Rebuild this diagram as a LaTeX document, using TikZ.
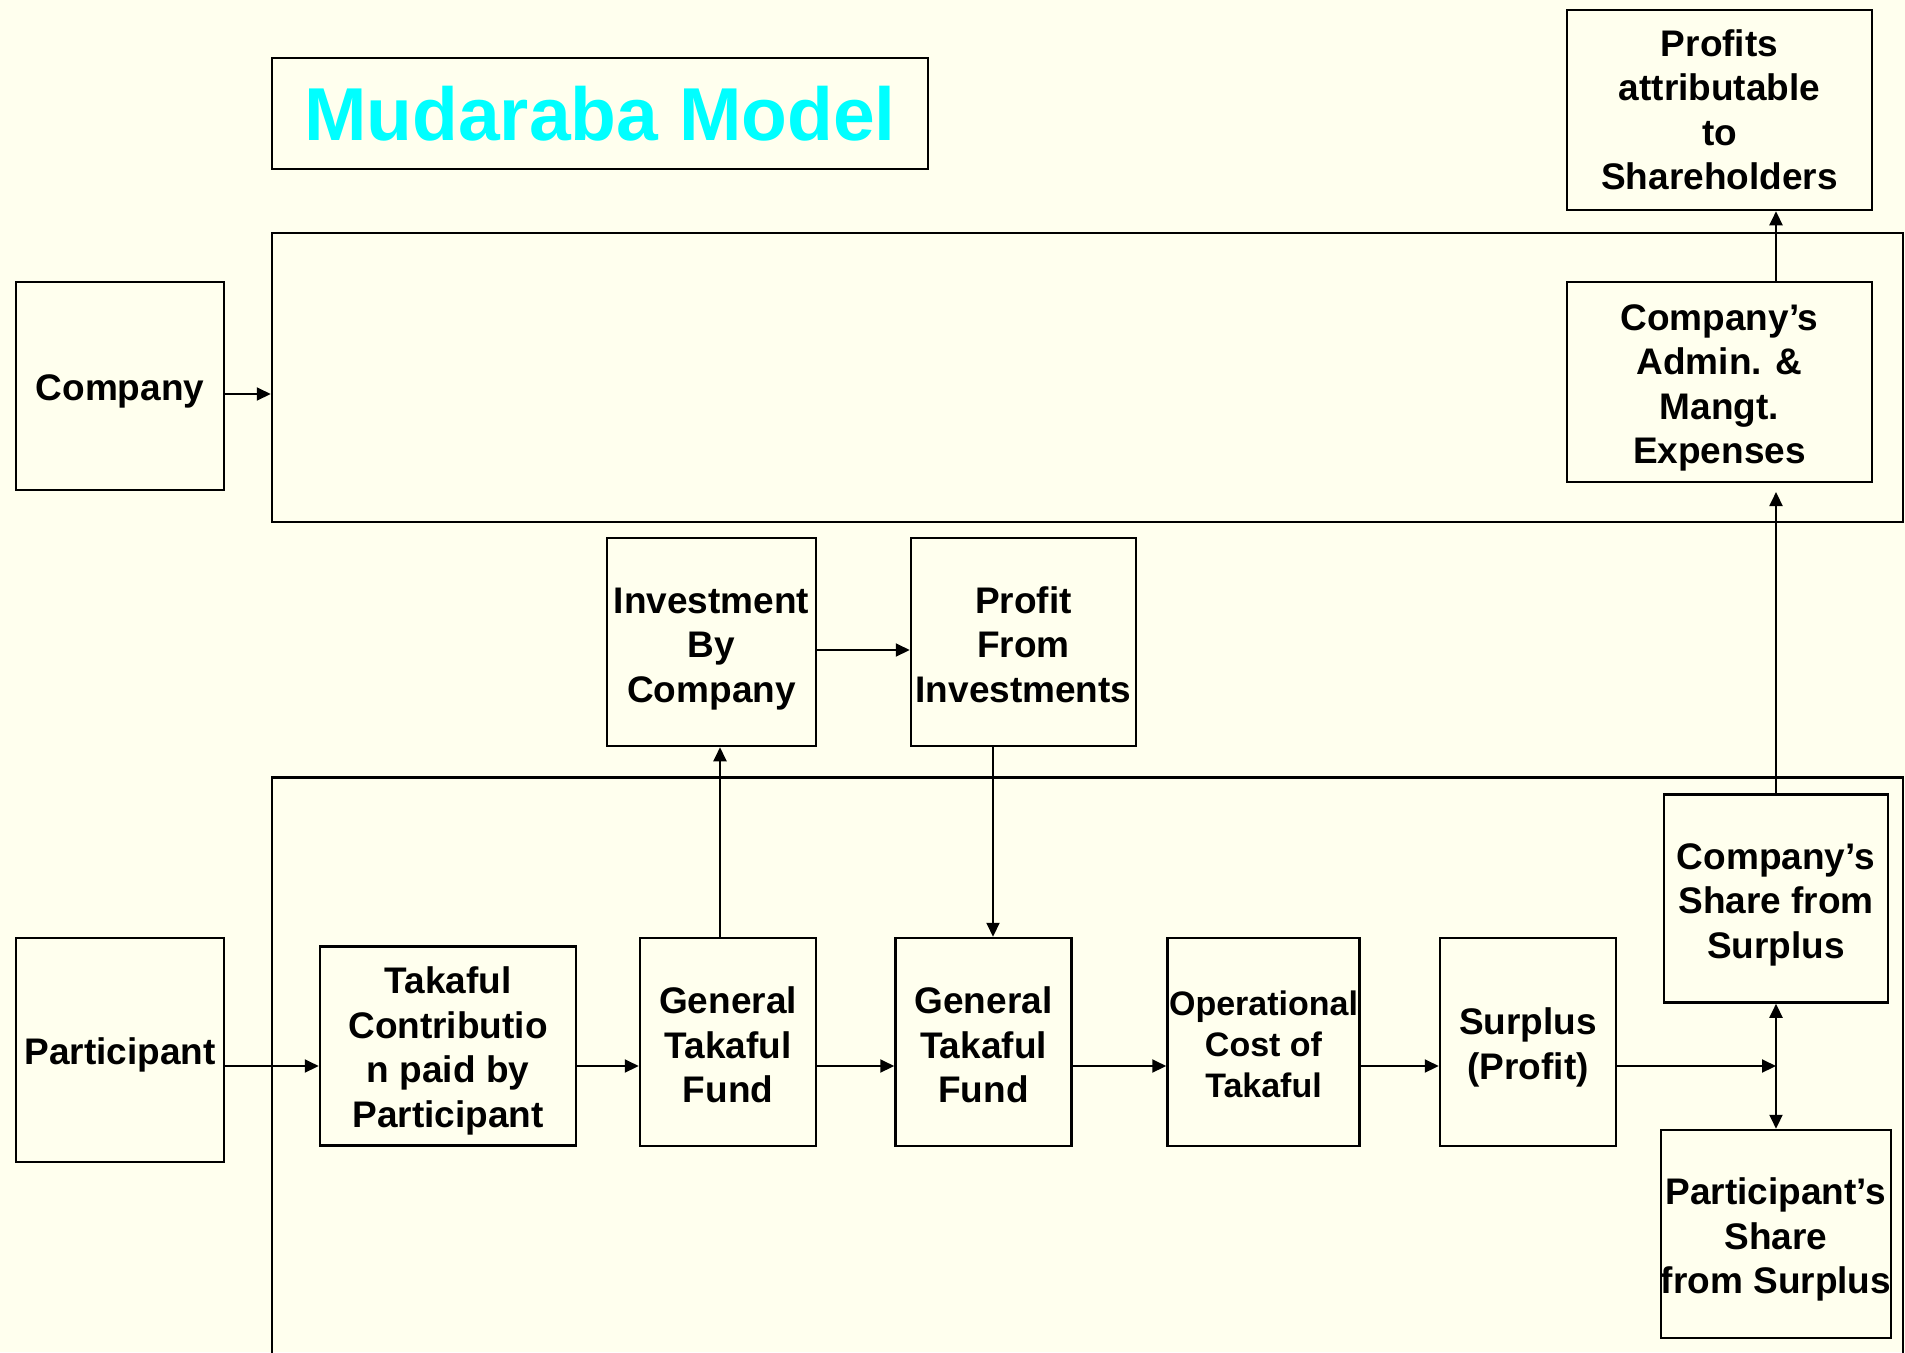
\documentclass[tikz,border=0pt]{standalone}
\usepackage{fontspec}
\setmainfont{Liberation Sans}
\usetikzlibrary{arrows.meta}
\definecolor{bg}{RGB}{255,255,238}
\definecolor{titlecyan}{RGB}{0,255,255}
\newcommand\liftby[1]{\rule{0pt}{#1pt}}
\begin{document}
\begin{tikzpicture}[x=1pt,y=-1pt,
  box/.style={draw, line width=2.5pt, inner sep=0pt, align=center,
    font=\fontsize{37}{44.5}\selectfont\bfseries},
  smallbox/.style={box, font=\fontsize{34}{40.7}\selectfont\bfseries},
  frame/.style={draw, line width=2.5pt, inner sep=0pt},
  arr/.style={line width=2pt, -{Triangle[length=14pt,width=13pt]}},
  darr/.style={line width=2pt, {Triangle[length=14pt,width=13pt]}-{Triangle[length=14pt,width=13pt]}}]
\fill[bg] (0,0) rectangle (1905,1352);
\useasboundingbox (0,0) rectangle (1905,1352);

% title
\node[frame, minimum width=656pt, minimum height=111pt] (titlebox) at (600,113.5) {};
\node[text=titlecyan, font=\fontsize{75}{80}\selectfont\bfseries, inner sep=0pt] (title) at (600,113.5) {Mudaraba Model};

% company frame (top)
\node[frame, minimum width=1631pt, minimum height=289pt] (topframe) at (1087.5,377.5) {};
% participant frame (bottom, open at the foot)
\coordinate (bfL) at (272,1360);
\coordinate (bfTL) at (272,777.5);
\coordinate (bfTR) at (1903,777.5);
\coordinate (bfR) at (1903,1360);
\draw[line width=2.5pt] (bfL) -- (bfTL) -- (bfTR) -- (bfR);

% nodes
\node[box, minimum width=305pt, minimum height=200pt] (profits) at (1719.5,110) {Profits\\attributable\\to\\Shareholders};
\node[box, minimum width=208pt, minimum height=208pt] (company) at (120,386) {\liftby{37}Company};
\node[box, minimum width=305pt, minimum height=200pt] (admin) at (1719.5,382) {\liftby{38}Company’s\\Admin. \&\\Mangt.\\Expenses};
\node[box, minimum width=209pt, minimum height=208pt] (invest) at (711.5,642) {\liftby{39}Investment\\By\\Company};
\node[box, minimum width=225pt, minimum height=208pt] (profinv) at (1023.5,642) {\liftby{32}Profit\\From\\Investments};
\node[box, minimum width=208pt, minimum height=224pt] (participant) at (120,1050) {\liftby{37}Participant};
\node[box, minimum width=256pt, minimum height=199pt] (contrib) at (448,1046) {\liftby{37}Takaful\\Contributio\\n paid by\\Participant};
\node[box, minimum width=176pt, minimum height=208pt] (gtf1) at (728,1042) {\liftby{33}General\\Takaful\\Fund};
\node[box, minimum width=176pt, minimum height=208pt] (gtf2) at (983.5,1042) {\liftby{33}General\\Takaful\\Fund};
\node[smallbox, minimum width=192pt, minimum height=208pt] (opcost) at (1263.5,1042) {\liftby{29}Operational\\Cost of\\Takaful};
\node[box, minimum width=176pt, minimum height=208pt] (surplus) at (1528,1042) {\liftby{38}Surplus\\(Profit)};
\node[box, minimum width=224pt, minimum height=208pt] (compshare) at (1776,898.5) {\liftby{38}Company’s\\Share from\\Surplus};
\node[box, minimum width=224pt, minimum height=208pt] (partshare) at (1776,1234) {\liftby{38}Participant’s\\Share\\from Surplus};

% helper coordinates
\coordinate (flow) at (0,1066);
\coordinate (junction) at (1776,1066);
\coordinate (cy) at (0,394);
\coordinate (iy) at (0,650);
\coordinate (upx) at (720,0);
\coordinate (dnx) at (993,0);
\coordinate (rx) at (1776,0);
\coordinate (admtip) at (1776,492);

% connectors
\draw[arr] (company.east |- cy) -- (topframe.west |- cy);
\draw[arr] (participant.east |- flow) -- (contrib.west |- flow);
\draw[arr] (contrib.east |- flow) -- (gtf1.west |- flow);
\draw[arr] (gtf1.east |- flow) -- (gtf2.west |- flow);
\draw[arr] (gtf2.east |- flow) -- (opcost.west |- flow);
\draw[arr] (opcost.east |- flow) -- (surplus.west |- flow);
\draw[arr] (surplus.east |- flow) -- (junction);
\draw[darr] (compshare.south) -- (partshare.north);
\draw[arr] (compshare.north) -- (admtip);
\draw[arr] (rx |- admin.north) -- (rx |- profits.south);
\draw[arr] (upx |- gtf1.north) -- (upx |- invest.south);
\draw[arr] (dnx |- profinv.south) -- (dnx |- gtf2.north);
\draw[arr] (invest.east |- iy) -- (profinv.west |- iy);
\end{tikzpicture}
\end{document}
